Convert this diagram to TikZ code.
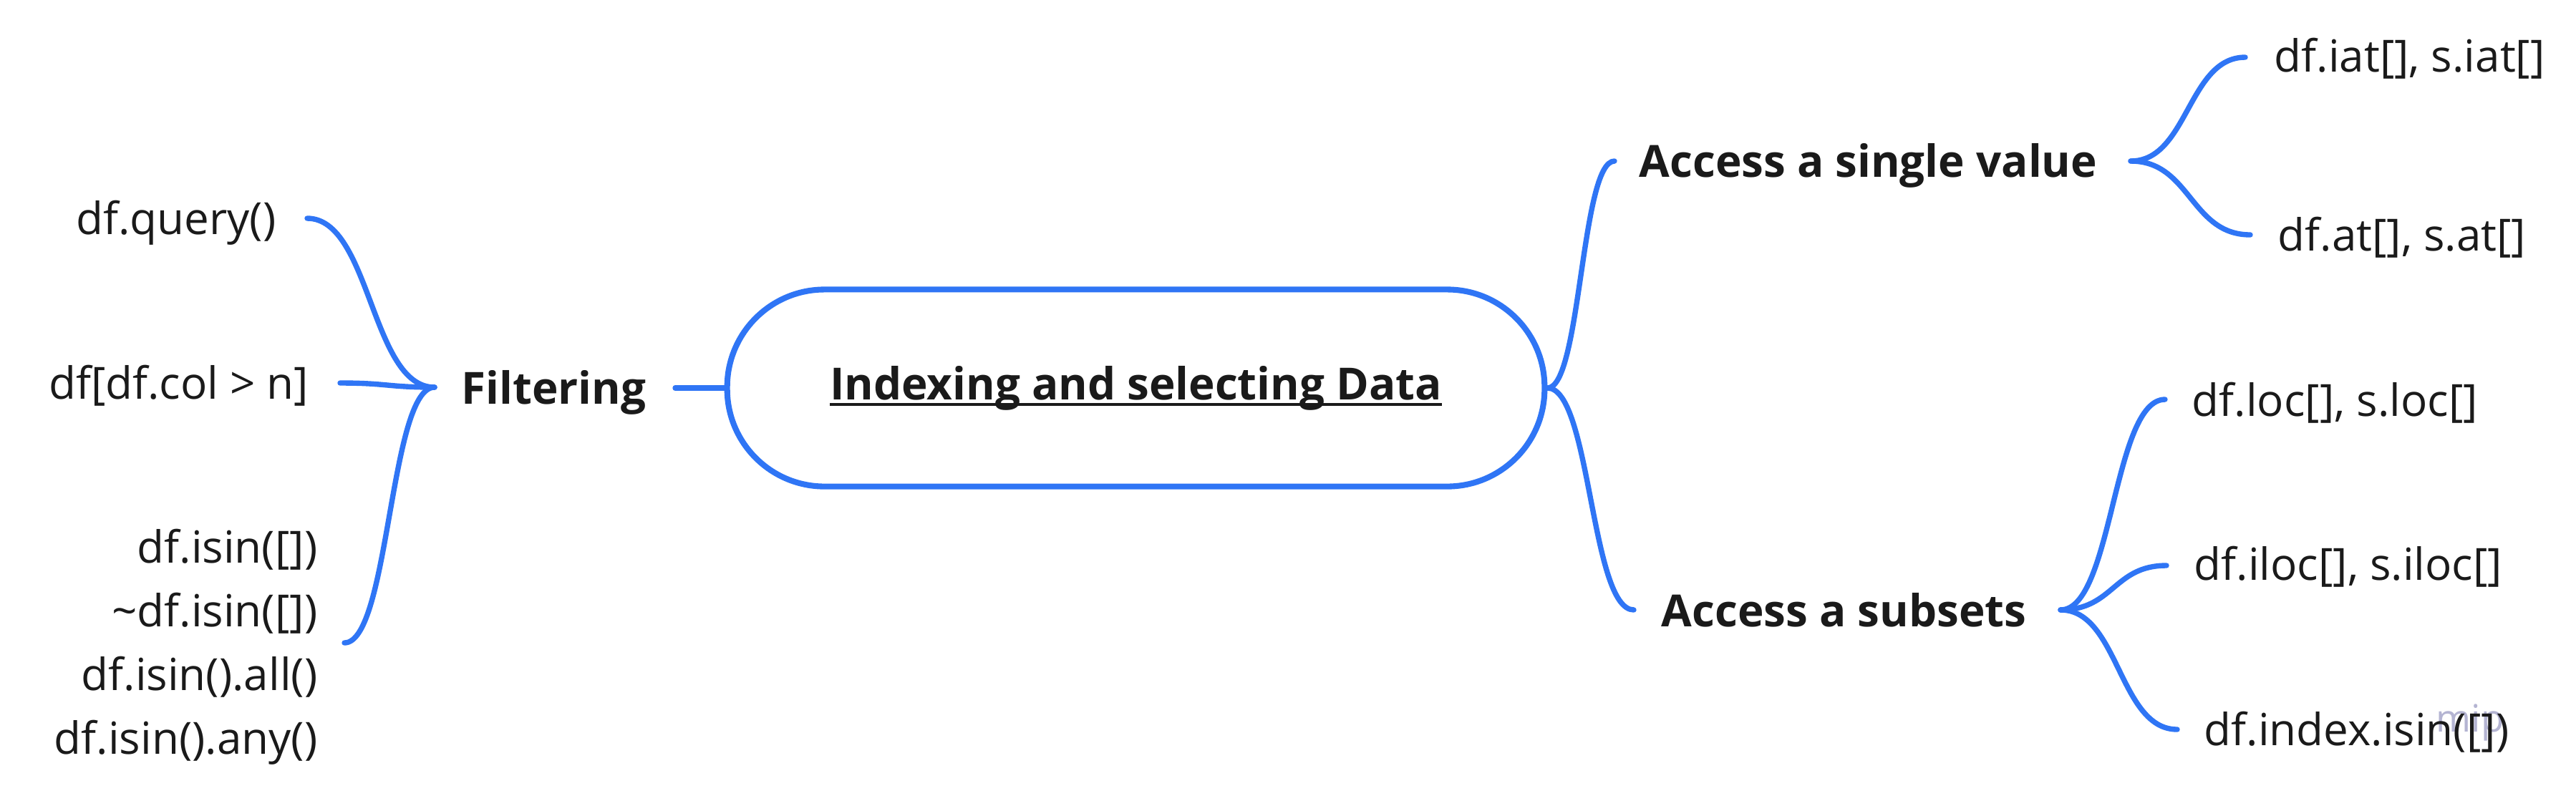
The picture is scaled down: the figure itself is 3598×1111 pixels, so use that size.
\documentclass[tikz,border=0pt]{standalone}
\usepackage{fontspec}
\setmainfont{Open Sans}
\usetikzlibrary{calc}
\definecolor{mmblue}{RGB}{47,117,245}
\definecolor{mmtext}{RGB}{26,26,26}
\definecolor{wmark}{RGB}{180,180,210}
\newcommand\ulbox[1]{\setbox0=\hbox{#1}\rlap{\rule[-2.6pt]{\wd0}{1.1pt}}\box0}
\newcommand\mmcurve[2]{\draw[conn] let \p1=(#1), \p2=(#2) in (\p1) .. controls ({(\x1+\x2)/2},\y1) and ({(\x1+\x2)/2},\y2) .. (\p2);}
\begin{document}
\begin{tikzpicture}[x=0.01cm,y=-0.01cm,
  txt/.style={inner sep=0pt, text=mmtext, font=\fontsize{17.6pt}{25.3pt}\selectfont},
  leaf/.style={txt},
  topic/.style={txt, font=\fontsize{17.6pt}{25.3pt}\selectfont\bfseries},
  root/.style={draw=mmblue, line width=2.3pt, rounded corners=1.36cm, minimum width=11.41cm, minimum height=2.75cm, inner sep=0pt, text=mmtext, font=\fontsize{17.6pt}{25.3pt}\selectfont\bfseries},
  conn/.style={draw=mmblue, line width=2.1pt, line cap=round}]
\useasboundingbox (0,0) rectangle (3598,1111);
\fill[white] (0,0) rectangle (3598,1111);
% root
\node[root] (c) at (1586.5,542) {\ulbox{Indexing and selecting Data}};
% topics
\node[topic, anchor=base west] (filt) at (644,564) {Filtering};
\node[topic, anchor=base west] (asv) at (2289,247) {Access a single value};
\node[topic, anchor=base west] (ass) at (2320,875) {Access a subsets};
% left leaves
\node[leaf, anchor=base east] (q) at (386,327) {df.query()};
\node[leaf, anchor=base east] (col) at (432,557) {df[df.col > n]};
\node[leaf, anchor=north east, align=right] (isin) at (444,738) {df.isin([])\\\textasciitilde df.isin([])\\df.isin().all()\\df.isin().any()};
% watermark
\node[inner sep=0pt, anchor=base west, text=wmark, font=\fontsize{15pt}{16pt}\selectfont] (wm) at (3402,1022) {mip};
% right leaves
\node[leaf, anchor=base west] (iat) at (3176,100) {df.iat[], s.iat[]};
\node[leaf, anchor=base west] (at) at (3181,350) {df.at[], s.at[]};
\node[leaf, anchor=base west] (loc) at (3061,581) {df.loc[], s.loc[]};
\node[leaf, anchor=base west] (iloc) at (3064,810) {df.iloc[], s.iloc[]};
\node[leaf, anchor=base west] (idx) at (3078,1041) {df.index.isin([])};
% connector end points
\coordinate (fj) at (607,541);
\coordinate (fr) at (943,542);
\coordinate (qe) at (429,305);
\coordinate (ce) at (475,535);
\coordinate (ie) at (481,898);
\coordinate (ase) at (2255,225);
\coordinate (sse) at (2282,852);
\coordinate (aj) at (2976,225);
\coordinate (iate) at (3136,80);
\coordinate (ate) at (3143,328);
\coordinate (sj) at (2878,852);
\coordinate (loce) at (3024,558);
\coordinate (iloce) at (3026,790);
\coordinate (idxe) at (3041,1019);
% connectors
\draw[conn] (fr) -- (c.west);
\mmcurve{fj}{qe}
\mmcurve{fj}{ce}
\mmcurve{fj}{ie}
\mmcurve{c.east}{ase}
\mmcurve{c.east}{sse}
\mmcurve{aj}{iate}
\mmcurve{aj}{ate}
\mmcurve{sj}{loce}
\mmcurve{sj}{iloce}
\mmcurve{sj}{idxe}
\end{tikzpicture}
\end{document}
